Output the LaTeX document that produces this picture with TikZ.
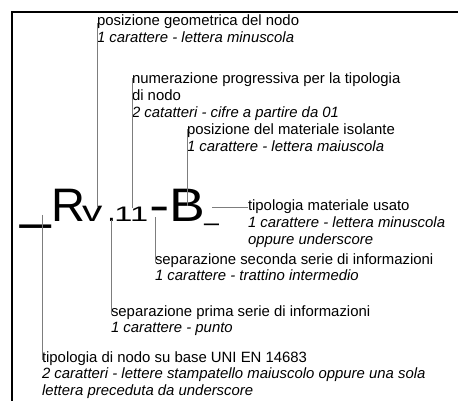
\documentclass[tikz,border=0pt]{standalone}
\usepackage{graphicx}
\usepackage{fontspec}
\setmainfont{Liberation Sans}
\definecolor{conngray}{RGB}{125,125,125}
\tikzset{
  conn/.style={draw=conngray, line width=0.9pt},
  lab/.style={anchor=base west, inner sep=0pt, outer sep=0pt, font=\fontsize{14.9}{16.8}\selectfont},
  glyph/.style={anchor=base west, inner sep=0pt, outer sep=0pt},
}
\newcommand{\lablines}[1]{\vtop{#1}}
\begin{document}
\begin{tikzpicture}[x=1pt,y=-1pt]
\useasboundingbox (0,0) rectangle (458,401);
% frame
\draw[line width=2pt, line cap=rect] (12,402) -- (12,12) -- (459,12);
% big code glyphs
\node[glyph, font=\fontsize{55}{55}\selectfont] (us1) at (20.6,217.8) {\_};
\node[glyph, font=\fontsize{47}{47}\selectfont] (R) at (51.3,222) {R};
\node[glyph, font=\fontsize{29}{29}\selectfont] (v) at (82,222) {\scalebox{1.4}[1]{v}};
\node[glyph, font=\fontsize{30}{30}\selectfont] (dot) at (107.4,222) {.};
\node[glyph, font=\fontsize{21}{21}\selectfont] (num) at (114.4,222) {\scalebox{1.55}[1]{11}};
\node[glyph, font=\fontsize{47}{47}\selectfont] (hy) at (149.3,222) {\scalebox{1.3}[1]{-}};
\node[glyph, font=\fontsize{47}{47}\selectfont] (B) at (169,222) {\scalebox{1.14}[1]{B}};
\node[glyph, font=\fontsize{26}{26}\selectfont] (us2) at (204.3,220.6) {\_};
% labels
\node[lab] (lab1) at (97,26) {\lablines{\hbox{posizione geometrica del nodo}\hbox{\itshape 1 carattere - lettera minuscola}}};
\node[lab] (lab2) at (132,84) {\lablines{\hbox{numerazione progressiva per la tipologia}\hbox{di nodo}\hbox{\itshape 2 catatteri - cifre a partire da 01}}};
\node[lab] (lab3) at (187,135) {\lablines{\hbox{posizione del materiale isolante}\hbox{\itshape 1 carattere - lettera maiuscola}}};
\node[lab] (lab4) at (248,211) {\lablines{\hbox{tipologia materiale usato}\hbox{\itshape 1 carattere - lettera minuscola}\hbox{\itshape oppure underscore}}};
\node[lab] (lab5) at (155,264) {\lablines{\hbox{separazione seconda serie di informazioni}\hbox{\itshape 1 carattere - trattino intermedio}}};
\node[lab] (lab6) at (111,316) {\lablines{\hbox{separazione prima serie di informazioni}\hbox{\itshape 1 carattere - punto}}};
\node[lab] (lab7) at (42,362) {\lablines{\hbox{tipologia di nodo su base UNI EN 14683}\hbox{\itshape 2 caratteri - lettere stampatello maiuscolo oppure una sola}\hbox{\itshape lettera preceduta da underscore}}};
% connectors
\draw[conn] ([yshift=-8pt]lab1.north west) -- (lab1.north west |- v.north);
\draw[conn] ([yshift=-5pt]lab2.north west) -- (lab2.north west |- num.north);
\draw[conn] ([yshift=-5pt]lab3.north west) -- (lab3.north west |- B.center);
\coordinate (c4) at (212,207);
\draw[conn] (c4) -- (lab4.base west |- c4);
\draw[conn] ([yshift=-2pt]lab5.base west |- hy.center) -- ([yshift=2pt]lab5.base west);
\draw[conn] ([yshift=2pt]lab6.base west |- dot.base) -- ([yshift=2pt]lab6.base west);
\draw[conn] ([yshift=3pt]lab7.base west |- us1.north) -- ([yshift=2pt]lab7.base west);
\end{tikzpicture}
\end{document}
